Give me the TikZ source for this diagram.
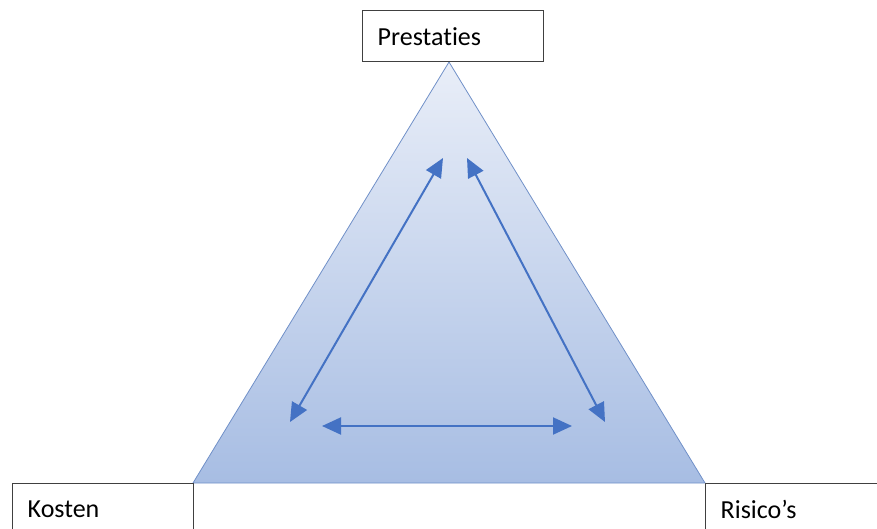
\documentclass[tikz,border=0pt]{standalone}
\usepackage{fontspec}
\setmainfont[Ligatures={NoCommon}]{Carlito}
\usetikzlibrary{arrows.meta}
\definecolor{arrowblue}{HTML}{4472C4}
\definecolor{triedge}{HTML}{7090C8}
\definecolor{tritop}{HTML}{E9EEF8}
\definecolor{tribot}{HTML}{A7BDE3}
\definecolor{boxedge}{HTML}{404040}
\tikzset{
  labelbox/.style={draw=boxedge, line width=1.4pt, fill=white, minimum width=181pt, minimum height=51pt,
    text width=151pt, align=left, inner xsep=15pt, font=\fontsize{26}{30}\selectfont, anchor=north west},
  relarrow/.style={draw=arrowblue, line width=2pt, {Triangle[length=19pt,width=17pt]}-{Triangle[length=19pt,width=17pt]}}
}
\begin{document}
\begin{tikzpicture}[x=1pt,y=-1pt]
\useasboundingbox (0,0) rectangle (877,528);
\clip (0,0) rectangle (877,528);
\coordinate (apex) at (449,62);
\coordinate (bl) at (193,483);
\coordinate (br) at (705,483);
\shade[top color=tritop, bottom color=tribot, draw=triedge, line width=0.8pt] (apex) -- (br) -- (bl) -- cycle;
\node[labelbox] (prest) at (362,10) {Prestaties};
\node[labelbox] (kost) at (12,483) {Kosten};
\node[labelbox] (ris) at (705,483) {Risico’s};
\coordinate (a1) at (443,158);
\coordinate (a2) at (290,422);
\coordinate (b1) at (467,158);
\coordinate (b2) at (605,422);
\coordinate (c1) at (322,426);
\coordinate (c2) at (572,426);
\draw[relarrow] (a1) -- (a2);
\draw[relarrow] (b1) -- (b2);
\draw[relarrow] (c1) -- (c2);
\end{tikzpicture}
\end{document}
